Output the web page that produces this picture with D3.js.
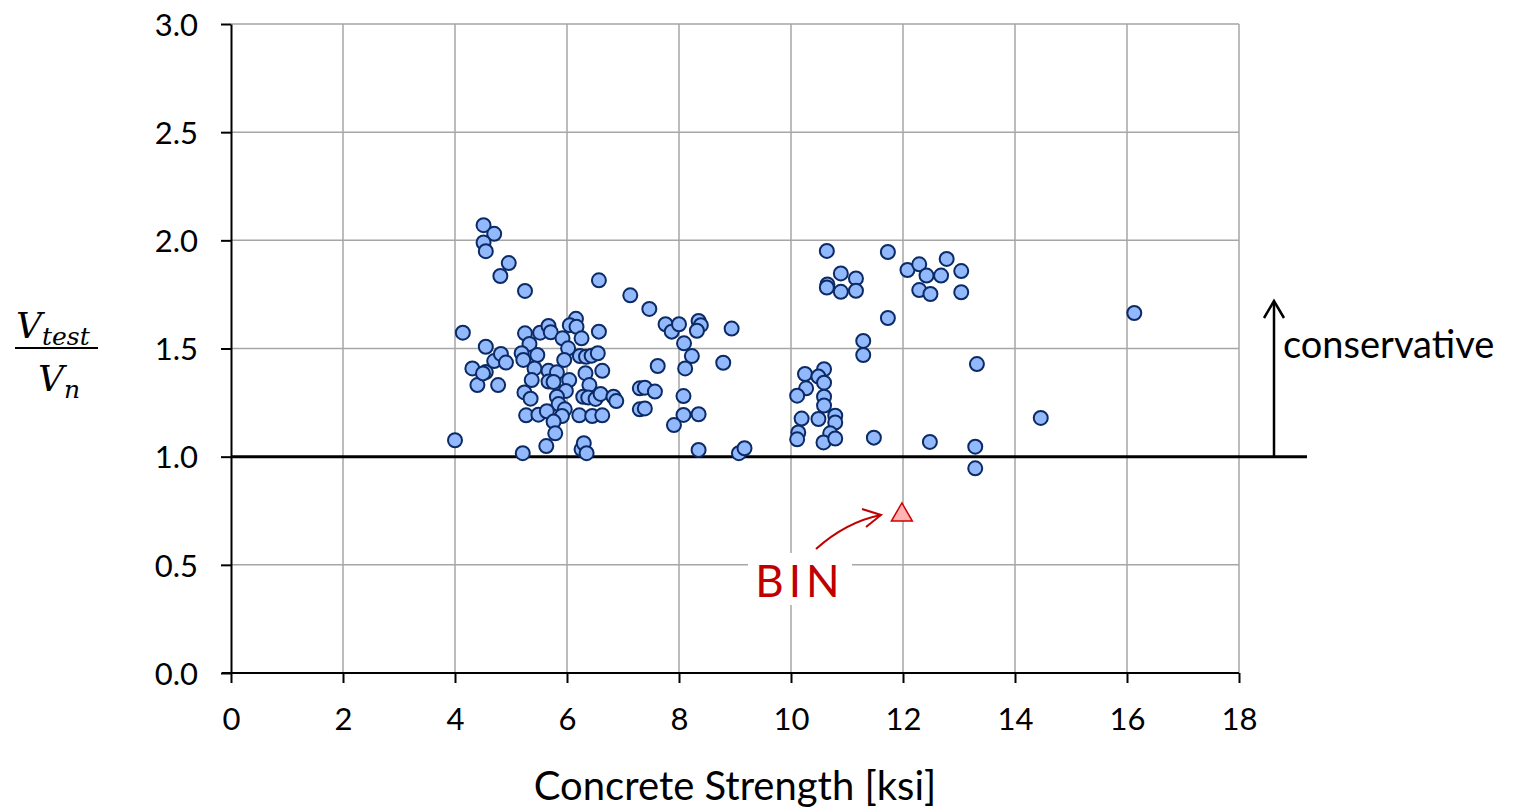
<!DOCTYPE html>
<html><head><meta charset="utf-8">
<script src="https://cdn.jsdelivr.net/npm/d3@7"></script>
<style>body{margin:0;background:#fff}svg{display:block}</style>
</head><body>
<svg id="c" width="1521" height="809"></svg>
<script>
const xTicks=[0,2,4,6,8,10,12,14,16,18];
const yTicks=[0.0,0.5,1.0,1.5,2.0,2.5,3.0];
const xTitle="Concrete Strength [ksi]";
const fc=[4.51,4.70,4.51,4.55,4.96,4.81,5.25,6.57,7.13,4.14,4.00,5.21,5.63,6.26,6.30,6.35,
4.55,4.31,4.40,4.77,4.55,4.50,4.70,4.82,4.91,5.25,5.33,5.19,5.22,5.47,5.42,5.37,5.24,5.35,5.27,5.49,
5.52,5.67,5.71,5.92,6.02,5.95,5.67,5.82,5.67,5.76,6.04,5.98,5.82,5.85,5.96,5.91,5.64,5.76,5.79,
6.16,6.05,6.17,6.26,6.57,6.23,6.34,6.44,6.55,6.63,6.33,6.40,6.29,6.38,6.51,6.60,6.83,6.88,6.22,6.45,6.63,
7.30,7.30,7.47,7.76,7.87,8.00,8.35,8.39,8.32,8.94,8.09,8.23,8.11,7.62,8.79,7.39,7.57,8.08,7.39,8.08,8.35,7.91,8.35,9.07,9.17,
10.64,11.73,10.89,11.16,10.65,10.64,10.89,11.16,11.73,11.29,11.29,12.08,12.29,12.42,12.78,12.68,13.04,12.29,12.49,13.04,13.32,
10.25,10.59,10.49,10.59,10.27,10.11,10.59,10.59,10.19,10.49,10.79,10.79,10.70,10.13,10.11,10.58,10.79,11.48,12.48,13.29,13.29,
14.46,16.13];
const ratio=[2.07,2.03,1.99,1.95,1.895,1.835,1.766,1.815,1.746,1.573,1.076,1.016,1.049,1.034,1.062,1.016,
1.508,1.408,1.331,1.331,1.391,1.385,1.442,1.475,1.435,1.570,1.521,1.478,1.447,1.470,1.408,1.354,1.297,1.268,1.191,1.194,
1.573,1.604,1.575,1.547,1.501,1.447,1.397,1.390,1.347,1.345,1.354,1.304,1.277,1.243,1.219,1.188,1.210,1.162,1.108,
1.637,1.608,1.600,1.547,1.578,1.465,1.462,1.467,1.478,1.397,1.386,1.331,1.277,1.273,1.267,1.290,1.277,1.257,1.191,1.188,1.191,
1.316,1.219,1.683,1.612,1.578,1.612,1.627,1.608,1.582,1.592,1.524,1.465,1.408,1.419,1.434,1.319,1.301,1.280,1.223,1.193,1.196,1.146,1.031,1.016,1.039,
1.951,1.946,1.847,1.824,1.796,1.782,1.762,1.767,1.641,1.535,1.470,1.863,1.889,1.837,1.914,1.837,1.858,1.770,1.752,1.760,1.428,
1.382,1.404,1.370,1.342,1.316,1.282,1.277,1.236,1.176,1.174,1.189,1.158,1.108,1.112,1.080,1.066,1.084,1.088,1.068,1.046,0.946,
1.179,1.664];
const binFc=[11.98];
const binRatio=[0.735];
const refValue=1.0;

const svg=d3.select("#c");
const L=231,R=1239,T=24,B=673;
const x=d3.scaleLinear().domain([0,18]).range([L,R]);
const y=d3.scaleLinear().domain([0,3]).range([B,T]);
const font="'Lato','Open Sans',sans-serif";

// grid
svg.append("g").selectAll("line").data(xTicks.filter(d=>d>0)).join("line")
 .attr("x1",d=>x(d)).attr("x2",d=>x(d)).attr("y1",T).attr("y2",B)
 .attr("stroke","#a6a6a6").attr("stroke-width",1.5);
svg.append("g").selectAll("line").data(yTicks.filter(d=>d>0)).join("line")
 .attr("x1",L).attr("x2",R).attr("y1",d=>y(d)).attr("y2",d=>y(d))
 .attr("stroke","#a6a6a6").attr("stroke-width",1.5);

// axes
const xa=svg.append("g").attr("transform",`translate(0,${B})`)
 .call(d3.axisBottom(x).tickValues(xTicks).tickSize(10).tickSizeOuter(0).tickFormat(d3.format("d")));
const ya=svg.append("g").attr("transform",`translate(${L},0)`)
 .call(d3.axisLeft(y).tickValues(yTicks).tickSize(10).tickSizeOuter(0).tickFormat(d3.format(".1f")));
[xa,ya].forEach(a=>{a.select(".domain").attr("stroke","#000").attr("stroke-width",2);
 a.selectAll(".tick line").attr("stroke","#000").attr("stroke-width",2);
 a.selectAll("text").attr("font-family",font).attr("font-size",31).attr("fill","#000");});
xa.select(".domain").attr("d",`M${L-9},0H${R}`);
xa.selectAll(".tick text").attr("dy",0).attr("y",57);
ya.selectAll(".tick text").attr("x",-33).attr("dy","0.36em");

// BIN label box (covers grid)
svg.append("rect").attr("x",748).attr("y",553).attr("width",104).attr("height",52).attr("fill","#fff");
svg.append("text").attr("x",800).attr("y",597).attr("text-anchor","middle")
 .attr("font-family",font).attr("font-size",44).attr("letter-spacing",5).attr("fill","#c00000").text("BIN");

// reference line
svg.append("line").attr("x1",L).attr("x2",1307).attr("y1",y(refValue)).attr("y2",y(refValue))
 .attr("stroke","#000").attr("stroke-width",3);
// conservative arrow
svg.append("line").attr("x1",1274).attr("x2",1274).attr("y1",y(refValue)).attr("y2",302)
 .attr("stroke","#000").attr("stroke-width",2.5);
svg.append("path").attr("d","M1264,318L1274,301L1284,318").attr("fill","none").attr("stroke","#000").attr("stroke-width",2.5);
svg.append("text").attr("x",1283).attr("y",358).attr("font-family",font).attr("font-size",38).attr("fill","#000").text("conservative");

// BIN arrow
svg.append("path").attr("d","M816,549Q846,522 881,515").attr("fill","none").attr("stroke","#c00000").attr("stroke-width",2);
svg.append("path").attr("d","M862,509L881,515L866,527").attr("fill","none").attr("stroke","#c00000").attr("stroke-width",2);

// data points
svg.append("g").selectAll("circle").data(fc.map((v,i)=>[v,ratio[i]])).join("circle")
 .attr("cx",d=>x(d[0])).attr("cy",d=>y(d[1])).attr("r",7)
 .attr("fill","#92b9fb").attr("stroke","#0b2a66").attr("stroke-width",2);
// BIN triangle
const tri=d3.symbol().type(d3.symbolTriangle).size(190);
svg.append("g").selectAll("path").data(binFc.map((v,i)=>[v,binRatio[i]])).join("path")
 .attr("d",tri).attr("transform",d=>`translate(${x(d[0])},${y(d[1])+1})`)
 .attr("fill","#ffb3b3").attr("stroke","#d00000").attr("stroke-width",1.5);

// titles
svg.append("text").attr("x",(L+R)/2).attr("y",800).attr("text-anchor","middle")
 .attr("font-family",font).attr("font-size",40).attr("fill","#000").text(xTitle);
const mf="'DejaVu Serif','Liberation Serif',serif";
const yl=svg.append("text").attr("x",16).attr("y",338).attr("font-family",mf).attr("font-style","italic").attr("fill","#000");
yl.append("tspan").attr("font-size",36).text("V");
yl.append("tspan").attr("font-size",25).attr("dy",7).text("test");
svg.append("line").attr("x1",15).attr("x2",98).attr("y1",348).attr("y2",348).attr("stroke","#000").attr("stroke-width",2);
const yl2=svg.append("text").attr("x",38).attr("y",391).attr("font-family",mf).attr("font-style","italic").attr("fill","#000");
yl2.append("tspan").attr("font-size",36).text("V");
yl2.append("tspan").attr("font-size",25).attr("dy",7).text("n");
</script>
</body></html>
